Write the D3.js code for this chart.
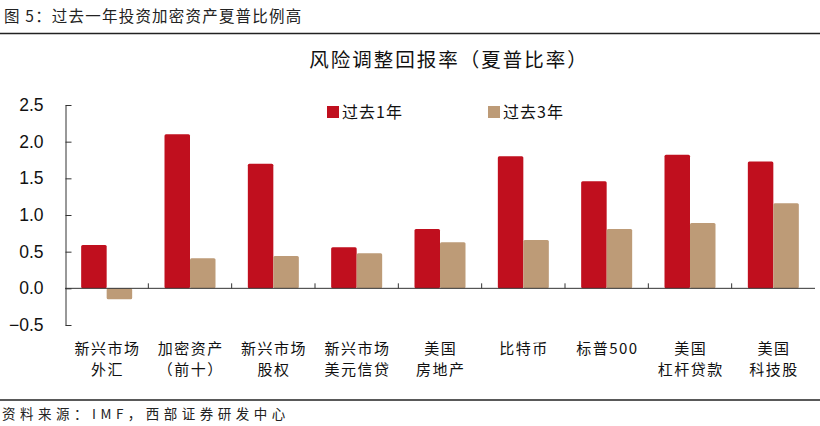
<!DOCTYPE html>
<html><head><meta charset="utf-8">
<script src="https://cdn.jsdelivr.net/npm/d3@7"></script>
<style>body{margin:0;background:#fff}svg{display:block}</style>
</head><body>
<svg id="c" width="820" height="426"></svg>
<script>
const categories = [["新兴市场","外汇"],["加密资产","（前十）"],["新兴市场","股权"],["新兴市场","美元信贷"],["美国","房地产"],["比特币",""],["标普500",""],["美国","杠杆贷款"],["美国","科技股"]];
const seriesNames = ["过去1年","过去3年"];
const past1 = [0.59, 2.10, 1.70, 0.56, 0.81, 1.80, 1.46, 1.82, 1.73];
const past3 = [-0.15, 0.41, 0.44, 0.48, 0.63, 0.66, 0.81, 0.89, 1.16];
const yTicks = [-0.5, 0, 0.5, 1.0, 1.5, 2.0, 2.5];
const colors = ["#C00F1E", "#BD9B77"];

const svg = d3.select("#c");
const cjk = "'Noto Sans CJK SC', sans-serif";
const latin = "'Liberation Sans', Arial, sans-serif";

// header
svg.append("text").attr("x",4).attr("y",22).attr("font-family",cjk).attr("font-size",15.5)
  .attr("letter-spacing",1.2).attr("fill","#222").text("图 5：过去一年投资加密资产夏普比例高");
svg.append("line").attr("x1",0).attr("x2",820).attr("y1",33.5).attr("y2",33.5).attr("stroke","#222").attr("stroke-width",1.5);

// chart title
svg.append("text").attr("x",449).attr("y",67).attr("text-anchor","middle").attr("font-family",cjk)
  .attr("font-size",19.5).attr("letter-spacing",2).attr("fill","#111").text("风险调整回报率（夏普比率）");

const idx = categories.map((d,i)=>i);
const x = d3.scaleBand().domain(idx).range([65, 815]).paddingInner(0).paddingOuter(0);
const y = d3.scaleLinear().domain([-0.5, 2.5]).range([325, 105]);
const bw = 25.5;

// bars
const g = svg.append("g");
[past1, past3].forEach((arr, s) => {
  g.selectAll(null).data(arr).enter().append("rect")
    .attr("x", (d,i)=> x(i) + x.bandwidth()/2 - bw + s*bw)
    .attr("width", bw)
    .attr("y", d => y(Math.max(0,d)))
    .attr("height", d => Math.abs(y(d)-y(0)))
    .attr("rx", 1.5)
    .attr("fill", colors[s]);
});

// y axis
const ya = svg.append("g").attr("transform","translate(65.5,0)")
  .call(d3.axisLeft(y).tickValues(yTicks).tickFormat(d3.format(".1f")).tickSizeInner(-6).tickSizeOuter(0).tickPadding(22));
ya.select(".domain").attr("stroke","#333");
ya.selectAll(".tick line").attr("stroke","#333");
ya.selectAll(".tick text").attr("font-family",latin).attr("font-size",17.5).attr("fill","#111");

// zero line with ticks
const z = y(0);
svg.append("line").attr("x1",65).attr("x2",815).attr("y1",z).attr("y2",z).attr("stroke","#333").attr("stroke-width",1);
svg.selectAll(null).data(idx.slice(1)).enter().append("line")
  .attr("x1",d=>x(d)).attr("x2",d=>x(d)).attr("y1",z).attr("y2",z-5).attr("stroke","#333");

// category labels
const ls = 1.5;
const lab = svg.selectAll(null).data(categories).enter().append("text")
  .attr("text-anchor","middle").attr("font-family",cjk).attr("font-size",15).attr("letter-spacing",ls).attr("fill","#111");
lab.append("tspan").attr("x",(d,i)=>x(i)+x.bandwidth()/2+ls/2).attr("y",354).text(d=>d[0]);
lab.append("tspan").attr("x",(d,i)=>x(i)+x.bandwidth()/2+ls/2).attr("y",375).text(d=>d[1]);

// legend
const lx = [327, 488];
seriesNames.forEach((n,s)=>{
  svg.append("rect").attr("x",lx[s]).attr("y",106).attr("width",12).attr("height",12).attr("fill",colors[s]);
  svg.append("text").attr("x",lx[s]+15).attr("y",118).attr("font-family",cjk).attr("font-size",16).attr("letter-spacing",1)
    .attr("fill","#111").text(n);
});

// footer
svg.append("line").attr("x1",0).attr("x2",820).attr("y1",400).attr("y2",400).attr("stroke","#222").attr("stroke-width",1.5);
svg.append("text").attr("x",2).attr("y",419).attr("font-family",cjk).attr("font-size",13.5).attr("letter-spacing",4.5)
  .attr("fill","#222").text("资料来源：IMF，西部证券研发中心");
</script>
</body></html>
